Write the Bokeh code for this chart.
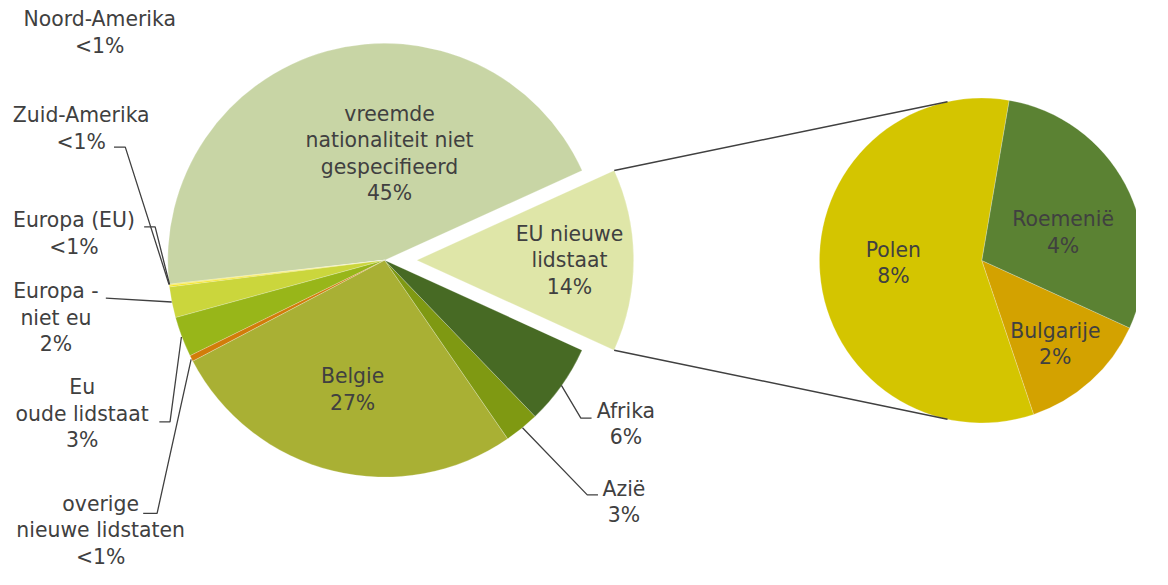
import numpy as np
from bokeh.plotting import figure
from bokeh.models import ColumnDataSource, Range1d
from bokeh.embed import file_html
from bokeh.resources import INLINE
from bokeh.core.properties import value

# ---------------- data ----------------
# main pie, listed counter-clockwise starting at the exploded slice
main_names = ["EU nieuwe\nlidstaat", "vreemde\nnationaliteit niet\ngespecifieerd",
              "Noord-Amerika", "Zuid-Amerika", "Europa (EU)", "Europa -\nniet eu",
              "Eu\noude lidstaat", "overige\nnieuwe lidstaten", "Belgie", "Azië", "Afrika"]
sub_names = ["Polen", "Bulgarije", "Roemenië"]
sub_values = [7.87, 1.77, 3.96]
main_values = [sum(sub_values), 45.0, 0.05, 0.05, 0.1, 2.3, 3.0, 0.45, 26.9, 2.6, 6.0]

# ---------------- styles ----------------
main_colors = ["#dfe6a8", "#c8d5a5", "#e9e000", "#f0d800", "#f5e200", "#cbd63c",
               "#98b619", "#d27c0a", "#a9b034", "#7f9912", "#476a24"]
sub_colors = ["#d4c500", "#d3a200", "#5b8233"]
TXT = "#404040"
FONT = value("DejaVu Sans")

W, H = 1168, 585            # reference canvas (drawing units)
PW, PH = 1136, 569           # figure size in pixels (uniform scale)
S = PH / H
FS = f"{21 * S:.1f}px"

def Y(y):
    return H - y

# geometry (reference pixel coordinates)
c1 = (395.0, 267.0); r1 = 223.0; rot1 = -24.5; explode = 33.0
c2 = (1009.0, 267.3); r2 = 167.0; rot2 = 80.3

def pct(v, tot):
    p = v / tot * 100
    return "<1%" if p < 1 else f"{round(p):d}%"

tot = sum(main_values)
frac = np.array(main_values) / tot
ends = rot1 + np.cumsum(frac) * 360
starts = ends - frac * 360
mids = (starts + ends) / 2
cx = np.full(len(main_values), c1[0]); cy = np.full(len(main_values), Y(c1[1]))
cx[0] += explode * np.cos(np.radians(mids[0]))
cy[0] += explode * np.sin(np.radians(mids[0]))
src1 = ColumnDataSource(dict(x=cx, y=cy, s=np.radians(starts), e=np.radians(ends), c=main_colors))

stot = sum(sub_values)
sfrac = np.array(sub_values) / stot
sends = rot2 + np.cumsum(sfrac) * 360
sstarts = sends - sfrac * 360
src2 = ColumnDataSource(dict(x=[c2[0]] * 3, y=[Y(c2[1])] * 3, s=np.radians(sstarts),
                             e=np.radians(sends), c=sub_colors))

p = figure(width=PW, height=PH, output_backend="svg", toolbar_location=None,
           x_range=Range1d(0, W), y_range=Range1d(0, H), min_border=0)
p.axis.visible = False
p.grid.visible = False
p.outline_line_color = None
p.background_fill_color = "white"
p.border_fill_color = "white"

p.wedge(x="x", y="y", radius=r1, start_angle="s", end_angle="e", fill_color="c",
        line_color="white", line_width=0.4, line_alpha=0.6, source=src1)
p.wedge(x="x", y="y", radius=r2, start_angle="s", end_angle="e", fill_color="c",
        line_color="white", line_width=0.4, line_alpha=0.6, source=src2)

# connector lines between exploded slice and secondary pie
a_up, a_dn = np.radians(ends[0]), np.radians(starts[0])
conn_xs = [[cx[0] + r1 * np.cos(a_up), c2[0] + r2 * np.cos(np.radians(102.2))],
           [cx[0] + r1 * np.cos(a_dn), c2[0] + r2 * np.cos(np.radians(257.8))]]
conn_ys = [[cy[0] + r1 * np.sin(a_up), Y(c2[1]) + r2 * np.sin(np.radians(102.2))],
           [cy[0] + r1 * np.sin(a_dn), Y(c2[1]) + r2 * np.sin(np.radians(257.8))]]
p.multi_line(xs=conn_xs, ys=conn_ys, line_color=TXT, line_width=1.5)

# leader lines (reference pixel coordinates)
leaders = [
    [(576.7, 395.7), (596.7, 429.3), (607.7, 429.3)],
    [(536.7, 439.3), (603.3, 508.3), (614.3, 508.3)],
    [(116.7, 150.7), (128.3, 150.7), (173.3, 292.0)],
    [(147.7, 232.7), (159.0, 232.7), (173.8, 292.0)],
    [(108.3, 306.0), (176.0, 310.0)],
    [(163.3, 433.3), (174.3, 433.3), (186.0, 346.0)],
    [(146.7, 527.3), (161.0, 527.3), (196.0, 369.0)],
]
p.multi_line(xs=[[q[0] for q in L] for L in leaders],
             ys=[[Y(q[1]) for q in L] for L in leaders], line_color=TXT, line_width=1.3)

# label anchor positions (reference pixels), same order as main_names
main_lab_pos = [(585, 267), (400, 157.5), (102, 33), (83, 131.5), (75.5, 239.5),
                (57, 326), (84, 425), (103, 544.5), (362, 400), (641, 515.5), (643, 435.5)]
sub_lab_pos = [(918, 270), (1084.5, 353), (1092.5, 238.5)]

texts = [f"{n}\n{pct(v, tot)}" for n, v in zip(main_names, main_values)]
texts += [f"{n}\n{pct(v, tot)}" for n, v in zip(sub_names, sub_values)]
pos = main_lab_pos + sub_lab_pos
p.text(x=[q[0] for q in pos], y=[Y(q[1]) for q in pos], text=texts,
       text_font=FONT, text_font_size=FS, text_color=TXT, text_align="center",
       text_baseline="middle", text_line_height=1.1)

open("out.html", "w").write(file_html(p, INLINE))
